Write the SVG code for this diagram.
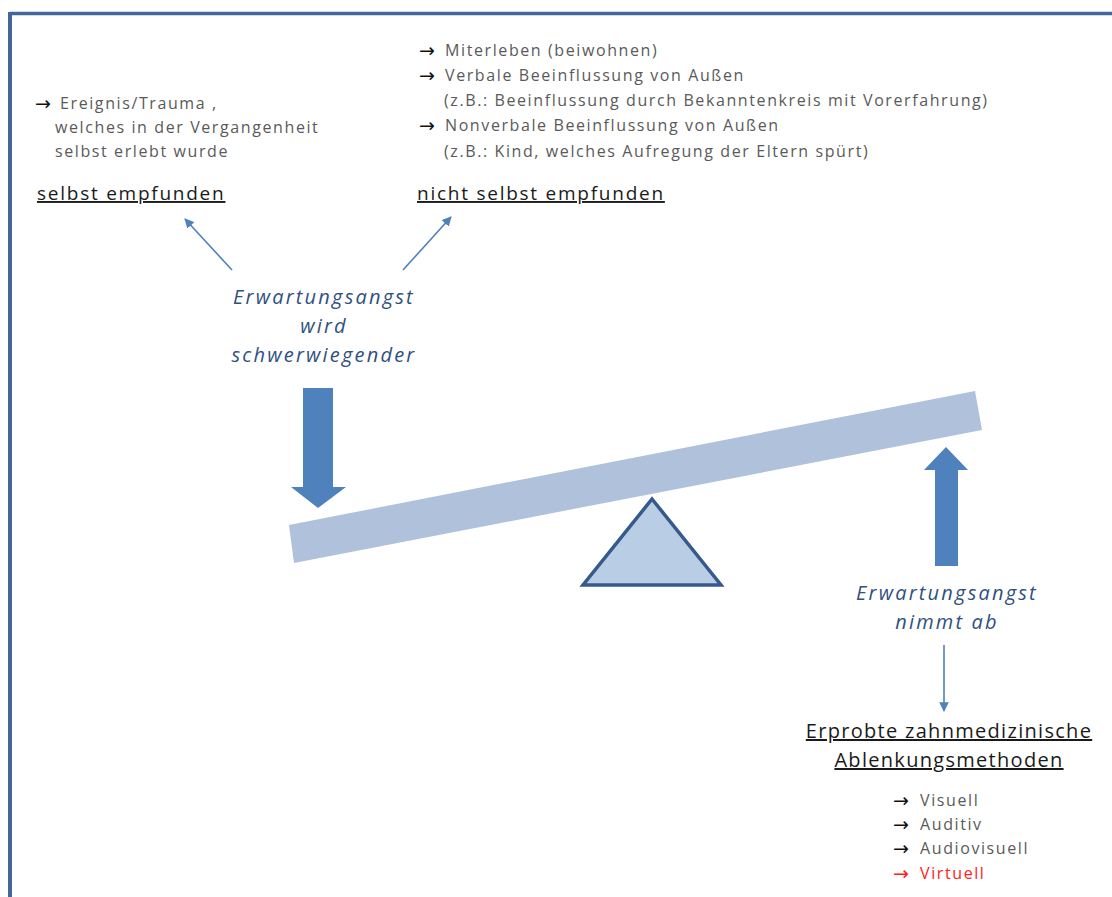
<svg xmlns="http://www.w3.org/2000/svg" width="1112" height="897" viewBox="0 0 1112 897">
<defs>
<style>
.t{font-family:"Open Sans","Liberation Sans",sans-serif;font-size:16px;letter-spacing:1.6px;fill:#5a5a5a}
.ar{font-family:"DejaVu Sans",sans-serif;font-size:19px;fill:#111}
.h{font-family:"Open Sans","Liberation Sans",sans-serif;font-size:19px;letter-spacing:1.75px;fill:#1a1a1a;text-decoration:underline}
.h2{font-family:"Open Sans","Liberation Sans",sans-serif;font-size:20px;letter-spacing:1.3px;fill:#1a1a1a;text-decoration:underline;text-anchor:middle}
.bl{font-family:"Open Sans","Liberation Sans",sans-serif;font-size:20px;letter-spacing:2.2px;font-style:italic;fill:#2f5080;text-anchor:middle}
.thin{stroke:#4f81bd;stroke-width:1.6;fill:none}
</style>
<marker id="ah" viewBox="0 0 10 10" refX="9" refY="5" markerWidth="6" markerHeight="6" orient="auto"><path d="M0,0 L10,5 L0,10 z" fill="#4f81bd"/></marker>
</defs>
<rect width="1112" height="897" fill="#fff"/>
<g id="frame">
<line x1="10" y1="13.5" x2="1112" y2="13.5" stroke="#44679a" stroke-width="3.5"/>
<line x1="10" y1="12" x2="10" y2="897" stroke="#44679a" stroke-width="4"/>
</g>
<g id="left-text">
<text class="ar" x="35" y="110">→</text>
<text class="t" x="60" y="109">Ereignis/Trauma ,</text>
<text class="t" x="55" y="133">welches in der Vergangenheit</text>
<text class="t" x="55" y="157">selbst erlebt wurde</text>
</g>
<g id="selbst"><text class="h" x="37" y="200">selbst empfunden</text></g>
<g id="right-text">
<text class="ar" x="419" y="57">→</text>
<text class="t" x="445" y="56">Miterleben (beiwohnen)</text>
<text class="ar" x="419" y="82">→</text>
<text class="t" x="445" y="81">Verbale Beeinflussung von Außen</text>
<text class="t" x="444" y="106">(z.B.: Beeinflussung durch Bekanntenkreis mit Vorerfahrung)</text>
<text class="ar" x="419" y="132">→</text>
<text class="t" x="445" y="131">Nonverbale Beeinflussung von Außen</text>
<text class="t" x="444" y="157">(z.B.: Kind, welches Aufregung der Eltern spürt)</text>
</g>
<g id="nicht"><text class="h" x="417" y="200">nicht selbst empfunden</text></g>
<g id="schwer">
<text class="bl" x="324" y="304">Erwartungsangst</text>
<text class="bl" x="324" y="333">wird</text>
<text class="bl" x="324" y="362">schwerwiegender</text>
</g>
<g id="seesaw">
<polygon points="289,525 975,391 982,430 294,563" fill="#b0c1db"/>
<polygon points="652,499 721,585 583,585" fill="#b9cde5" stroke="#375a8c" stroke-width="3.5" stroke-linejoin="miter"/>
</g>
<g id="down-arrow"><polygon points="303,388 333,388 333,487 346,487 318,508 291,487 303,487" fill="#4f81bd"/></g>
<g id="up-arrow"><polygon points="935,566 958,566 958,470 968,470 946,447 924,470 935,470" fill="#4f81bd"/></g>
<g id="nimmt">
<text class="bl" x="947" y="600">Erwartungsangst</text>
<text class="bl" x="947" y="629">nimmt ab</text>
</g>
<g id="methoden">
<text class="h2" x="949" y="738">Erprobte zahnmedizinische</text>
<text class="h2" x="949" y="767">Ablenkungsmethoden</text>
</g>
<g id="list">
<text class="ar" x="893" y="807">→</text>
<text class="t" x="920" y="806">Visuell</text>
<text class="ar" x="893" y="831">→</text>
<text class="t" x="920" y="830">Auditiv</text>
<text class="ar" x="893" y="855">→</text>
<text class="t" x="920" y="854">Audiovisuell</text>
<text class="ar" x="893" y="880" style="fill:#ff2020">→</text>
<text class="t" x="920" y="879" style="fill:#ff2020">Virtuell</text>
</g>
<g id="connectors">
<line class="thin" x1="232" y1="270" x2="185" y2="219" marker-end="url(#ah)"/>
<line class="thin" x1="403" y1="270" x2="451" y2="217" marker-end="url(#ah)"/>
<line class="thin" x1="944" y1="645" x2="944" y2="711" marker-end="url(#ah)"/>
</g>
</svg>
